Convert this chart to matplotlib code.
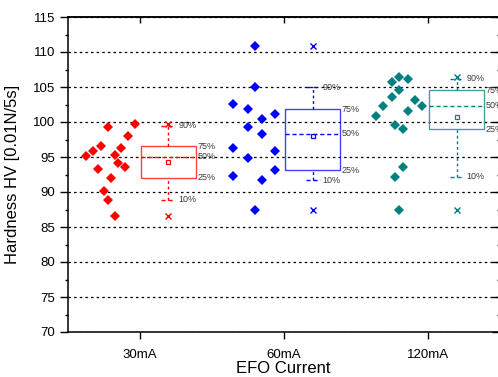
import numpy as np
import matplotlib
matplotlib.use("Agg")
import matplotlib.pyplot as plt
from matplotlib.ticker import MultipleLocator


categories = ["30mA", "60mA", "120mA"]
colors = ["#FF0000", "#0000FF", "#008080"]

# hardness values per group
values_30 = [95.14, 95.81, 96.57, 99.24, 93.24, 90.19, 88.86, 86.57,
             95.29, 94.19, 92.0, 96.24, 93.62, 98.0, 99.67]
values_60 = [110.86, 104.95, 102.57, 101.81, 100.38, 101.14, 99.24, 98.29,
             96.24, 94.81, 95.9, 92.29, 91.71, 93.14, 87.43]
values_120 = [105.76, 106.38, 106.1, 104.57, 103.62, 102.29, 100.9, 103.14,
              102.29, 101.62, 99.57, 98.95, 93.62, 92.19, 87.43]

# horizontal spread of the points left of each category
spread_30 = [-0.37, -0.32, -0.27, -0.22, -0.29, -0.25, -0.22, -0.17,
             -0.17, -0.15, -0.20, -0.13, -0.10, -0.08, -0.03]
spread_60 = [-0.20, -0.20, -0.35, -0.25, -0.15, -0.06, -0.25, -0.15,
             -0.35, -0.25, -0.06, -0.35, -0.15, -0.06, -0.20]
spread_120 = [-0.25, -0.20, -0.14, -0.20, -0.25, -0.31, -0.36, -0.09,
              -0.04, -0.14, -0.23, -0.17, -0.17, -0.23, -0.20]

# box statistics as drawn
p10 = [88.86, 91.71, 92.19]
p25 = [92.0, 93.14, 99.0]
p50 = [95.05, 98.29, 102.29]
p75 = [96.57, 101.81, 104.57]
p90 = [99.5, 105.0, 106.19]
means = [94.33, 98.0, 100.67]

BOX_CENTER = 0.20
BOX_HALF = 0.19
CAP_HALF = 0.048
LABEL_COLOR = "#3a3a3a"

plt.rcParams["font.family"] = ["Liberation Sans", "DejaVu Sans"]

fig = plt.figure(figsize=(4.98, 3.77), dpi=100)
ax = fig.add_axes([67.5 / 498, 45 / 377, 432.5 / 498, 315 / 377])

groups = [values_30, values_60, values_120]
spreads = [spread_30, spread_60, spread_120]

for i, (vals, spr, col) in enumerate(zip(groups, spreads, colors)):
    pos = i + 1
    ax.plot(pos + np.array(spr), vals, "D", color=col, ms=5.2, mew=0,
            zorder=4)

    bx = pos + BOX_CENTER
    # box
    ax.add_patch(plt.Rectangle((bx - BOX_HALF, p25[i]), 2 * BOX_HALF,
                               p75[i] - p25[i], fill=False, edgecolor=col,
                               lw=1.0, alpha=0.75, zorder=3))
    ax.plot([bx - BOX_HALF, bx + BOX_HALF], [p50[i], p50[i]], color=col,
            lw=1.0, ls=(0, (3, 2)), zorder=3)
    # whiskers
    ax.plot([bx, bx], [p75[i], p90[i]], color=col, lw=1.0,
            ls=(0, (2, 2)), zorder=3)
    ax.plot([bx, bx], [p10[i], p25[i]], color=col, lw=1.0,
            ls=(0, (2, 2)), zorder=3)
    for q in (p10[i], p90[i]):
        ax.plot([bx - CAP_HALF, bx + CAP_HALF], [q, q], color=col, lw=1.0,
                ls=(0, (3, 2)), zorder=3)
    # mean, min, max
    ax.plot(bx, means[i], "s", mfc="none", mec=col, ms=3.2, mew=0.9,
            zorder=4)
    ax.plot([bx, bx], [min(vals), max(vals)], "x", color=col, ms=3.8,
            mew=1.0, ls="none", zorder=4)

    # percentile labels
    fs = 6.5
    ax.text(bx + CAP_HALF + 0.02, p90[i], "90%", fontsize=fs,
            color=LABEL_COLOR, va="center", ha="left", clip_on=False)
    ax.text(bx + CAP_HALF + 0.02, p10[i], "10%", fontsize=fs,
            color=LABEL_COLOR, va="center", ha="left", clip_on=False)
    for q, lab in ((p75[i], "75%"), (p50[i], "50%"), (p25[i], "25%")):
        ax.text(bx + BOX_HALF + 0.012, q, lab, fontsize=fs,
                color=LABEL_COLOR, va="center", ha="left", clip_on=False)

ax.set_xlim(0.5, 3.5)
ax.set_ylim(70, 115)
ax.set_xticks([1, 2, 3])
ax.set_xticklabels(categories)
ax.yaxis.set_major_locator(MultipleLocator(5))
ax.yaxis.set_minor_locator(MultipleLocator(2.5))

ax.yaxis.grid(True, which="major", color="black", lw=0.9,
              ls=(0, (2, 2.5)))
ax.set_axisbelow(True)

for s in ax.spines.values():
    s.set_linewidth(1.1)

ax.tick_params(axis="y", which="major", direction="out", length=6,
               width=1.0, pad=3, labelsize=9.5, right=False)
ax.tick_params(axis="y", which="minor", direction="out", length=2.5,
               width=1.0, right=False)
ax.tick_params(axis="x", which="major", direction="out", length=5,
               width=1.0, pad=7, labelsize=9.5, top=False)

# right and top ticks point inward
ax_r = ax.secondary_yaxis("right")
ax_r.yaxis.set_major_locator(MultipleLocator(5))
ax_r.yaxis.set_minor_locator(MultipleLocator(2.5))
ax_r.tick_params(which="major", direction="in", length=6, width=1.0,
                 labelright=False)
ax_r.tick_params(which="minor", direction="in", length=2.5, width=1.0)
ax_r.spines["right"].set_linewidth(1.1)

ax_t = ax.secondary_xaxis("top")
ax_t.set_xticks([1, 2, 3])
ax_t.tick_params(direction="in", length=4.5, width=1.0, labeltop=False)
ax_t.spines["top"].set_linewidth(1.1)

ax.set_xlabel("EFO Current", fontsize=12, labelpad=0)
ax.set_ylabel("Hardness HV [0.01N/5s]", fontsize=12, labelpad=9)

fig.savefig("out.png", dpi=100)
